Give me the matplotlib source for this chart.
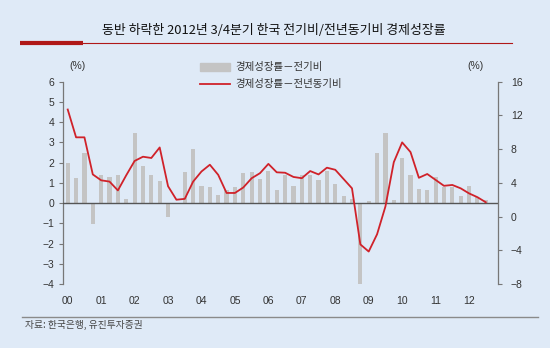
import matplotlib
matplotlib.use("Agg")
import matplotlib.pyplot as plt
from matplotlib.patches import Rectangle
from matplotlib.lines import Line2D
import numpy as np

plt.rcParams['font.family'] = ['Liberation Sans', 'Noto Sans CJK KR']
plt.rcParams['axes.unicode_minus'] = True

# Quarterly data 2000Q1 - 2012Q3
qoq = [2.0, 1.25, 2.5, -1.05,
       1.4, 1.3, 1.4, 0.2,
       3.45, 1.85, 1.4, 1.1,
       -0.7, 0.0, 1.55, 2.65,
       0.85, 0.8, 0.4, 0.65,
       0.8, 1.5, 1.55, 1.2,
       1.6, 0.65, 1.4, 0.85,
       1.4, 1.4, 1.15, 1.6,
       0.95, 0.35, 0.2, -4.1,
       0.1, 2.5, 3.45, 0.15,
       2.25, 1.4, 0.7, 0.65,
       1.3, 0.8, 0.8, 0.35,
       0.85, 0.3, 0.15]
yoy = [12.7, 9.4, 9.4, 5.0,
       4.3, 4.15, 3.1, 4.9,
       6.6, 7.1, 6.95, 8.2,
       3.6, 2.0, 2.1, 4.15,
       5.35, 6.15, 4.95, 2.8,
       2.8, 3.45, 4.55, 5.15,
       6.25, 5.25, 5.2, 4.7,
       4.55, 5.4, 5.0, 5.8,
       5.55, 4.45, 3.35, -3.3,
       -4.15, -2.1, 1.2, 6.45,
       8.8, 7.65, 4.6, 5.05,
       4.35, 3.65, 3.75, 3.35,
       2.75, 2.3, 1.7]
year_labels = ['00', '01', '02', '03', '04', '05', '06', '07', '08', '09', '10', '11', '12']
left_ticks = [-4, -3, -2, -1, 0, 1, 2, 3, 4, 5, 6]
right_ticks = [-8, -4, 0, 4, 8, 12, 16]

title = '동반 하락한 2012년 3/4분기 한국 전기비/전년동기비 경제성장률'
legend_bar = '경제성장률－전기비'
legend_line = '경제성장률－전년동기비'
source = '자료: 한국은행, 유진투자증권'

BG = '#dfeaf7'
W, H = 550, 348
fig = plt.figure(figsize=(5.5, 3.48), dpi=100, facecolor=BG)

def fx(px):
    return px / W
def fy(py):
    return 1 - py / H

ax = fig.add_axes([fx(62.7), fy(284), fx(498.3) - fx(62.7), fy(81.7) - fy(284)])
ax.set_facecolor('none')
x = np.arange(len(qoq))
ax.bar(x, qoq, width=0.5, color='#c4c4c4', zorder=2)
ax.set_ylim(-4, 6)
ax.set_xlim(-0.6, 51.5)
ax.axhline(0, color='#555555', lw=1.0, zorder=3)

ax2 = ax.twinx()
ax2.plot(x, yoy, color='#d0222a', lw=1.3, zorder=4)
ax2.set_ylim(-8, 16)

for a in (ax, ax2):
    a.spines['top'].set_visible(False)
    a.spines['bottom'].set_visible(False)
    for s in ('left', 'right'):
        a.spines[s].set_color('#777777')
        a.spines[s].set_linewidth(0.9)
ax.spines['right'].set_visible(False)
ax2.spines['left'].set_visible(False)

ax.set_yticks(left_ticks)
ax.tick_params(axis='y', length=3, width=0.8, color='#777777', labelsize=7.5, labelcolor='#333333', pad=3)
ax2.set_yticks(right_ticks)
ax2.tick_params(axis='y', length=3, width=0.8, color='#777777', labelsize=7.5, labelcolor='#333333', pad=6)
ax.set_xticks(np.arange(0, len(year_labels) * 4, 4))
ax.set_xticklabels(year_labels)
ax.tick_params(axis='x', length=0, labelsize=7.5, labelcolor='#333333', pad=9)

# unit labels
fig.text(fx(77), fy(66), '(%)', fontsize=7.5, color='#333333', ha='center', va='center')
fig.text(fx(475), fy(66), '(%)', fontsize=7.5, color='#333333', ha='center', va='center')

# legend
fig.add_artist(Rectangle((fx(200), fy(70.5)), fx(230) - fx(200), fy(63) - fy(70.5),
                         transform=fig.transFigure, color='#c4c4c4'))
fig.add_artist(Line2D([fx(200), fx(230)], [fy(84), fy(84)], transform=fig.transFigure,
                      color='#d0222a', lw=1.3))
fig.text(fx(235), fy(67), legend_bar, fontsize=7.5, color='#333333', ha='left', va='center',
         family=['Noto Sans CJK KR'])
fig.text(fx(235), fy(84.5), legend_line, fontsize=7.5, color='#333333', ha='left', va='center',
         family=['Noto Sans CJK KR'])

# title & header line
fig.text(fx(273.5), fy(31), title, fontsize=9.3, color='#111111', ha='center', va='center',
         family=['Noto Sans CJK KR', 'Liberation Sans'])
fig.add_artist(Line2D([fx(83), fx(512)], [fy(43), fy(43)], transform=fig.transFigure,
                      color='#b01818', lw=0.8))
fig.add_artist(Line2D([fx(20), fx(83)], [fy(42.5), fy(42.5)], transform=fig.transFigure,
                      color='#b01818', lw=3, solid_capstyle='butt'))

# source line
fig.add_artist(Line2D([fx(22), fx(538)], [fy(316.5), fy(316.5)], transform=fig.transFigure,
                      color='#8a8a8a', lw=1.0))
fig.text(fx(25), fy(325), source, fontsize=7, color='#444444', ha='left', va='center',
         family=['Noto Sans CJK KR'])

fig.savefig('out.png', dpi=100, facecolor=BG)
